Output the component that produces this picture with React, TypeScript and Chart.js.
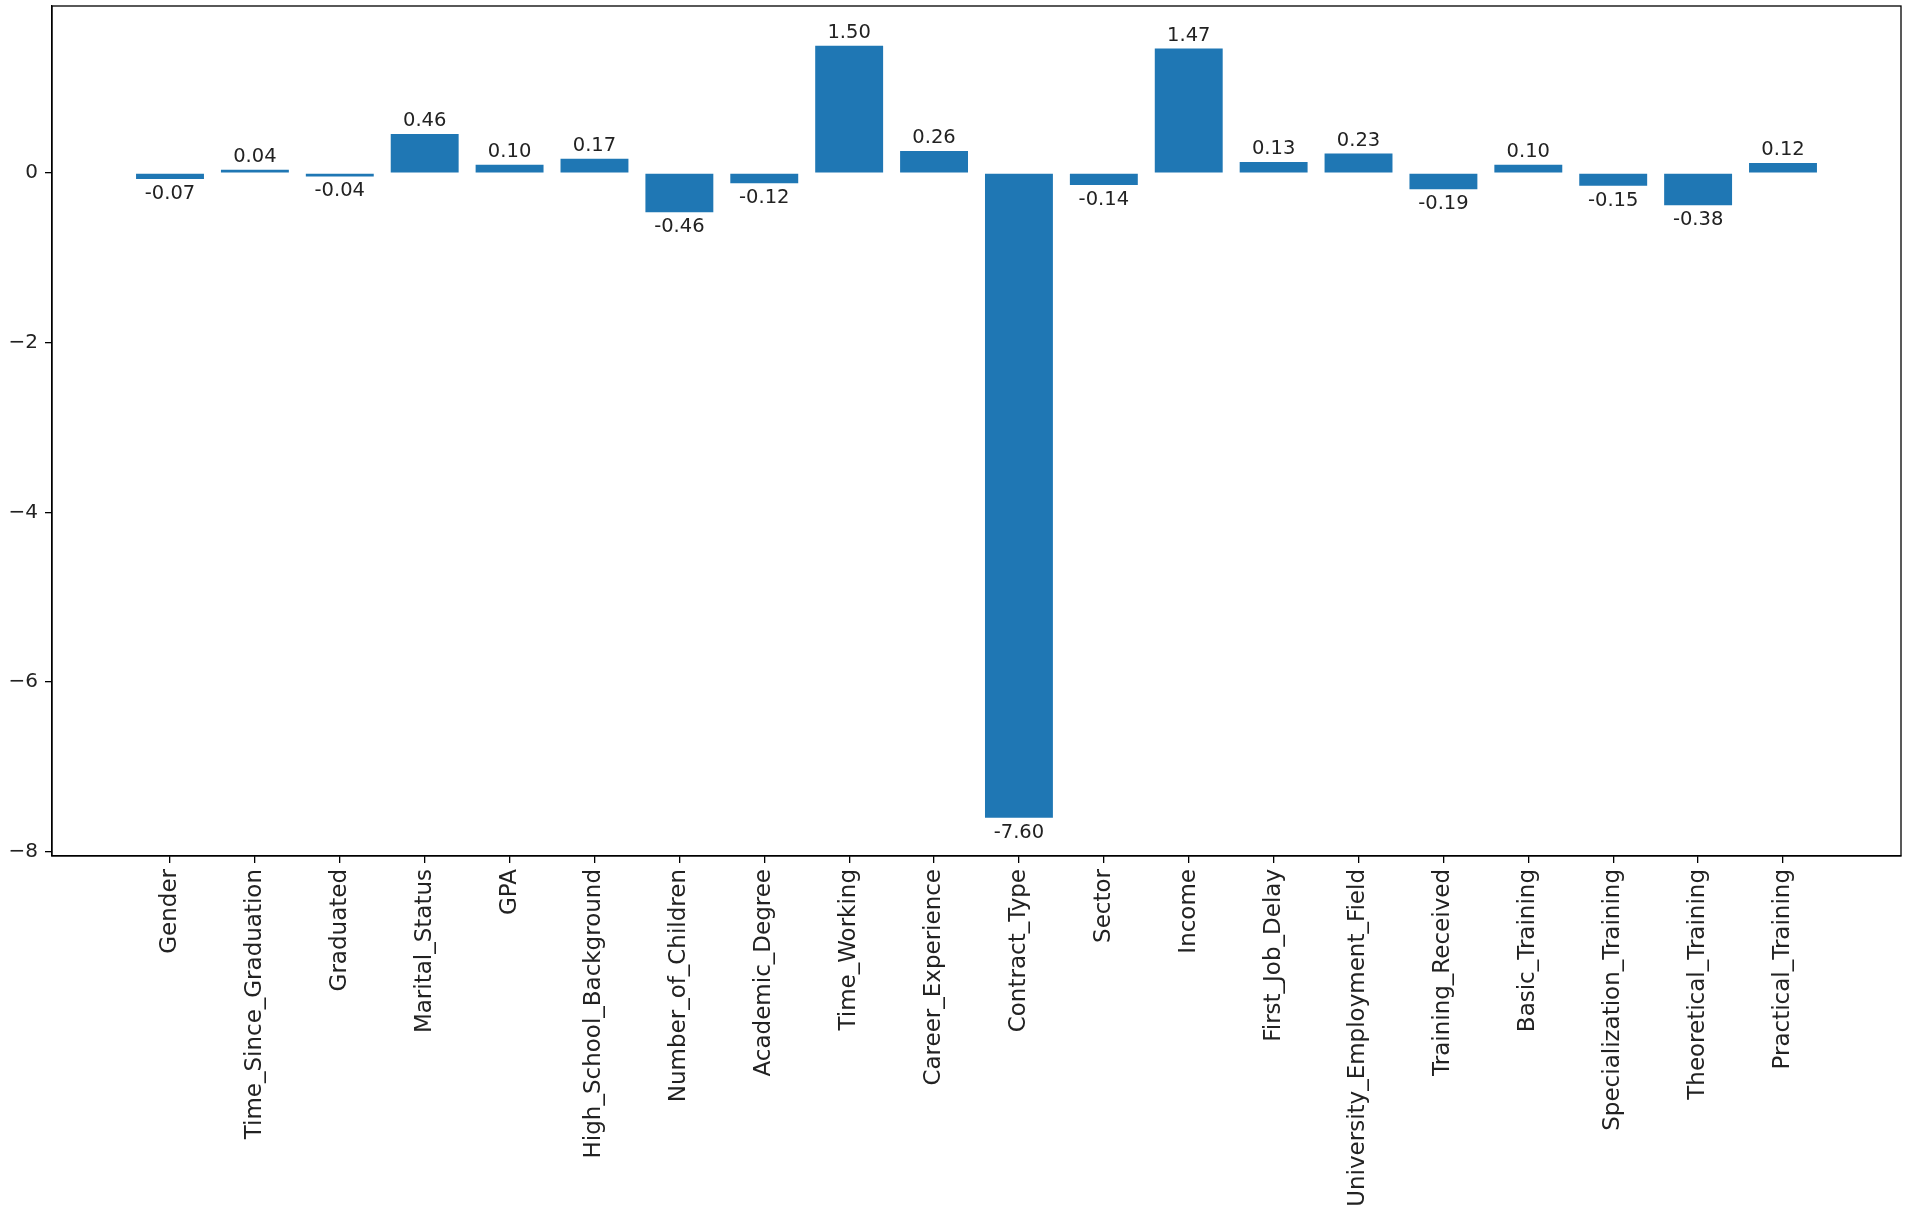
import React, { useEffect, useRef } from "react";
import { Chart, registerables } from "chart.js";

Chart.register(...registerables);

const categories: string[] = [
  "Gender",
  "Time_Since_Graduation",
  "Graduated",
  "Marital_Status",
  "GPA",
  "High_School_Background",
  "Number_of_Children",
  "Academic_Degree",
  "Time_Working",
  "Career_Experience",
  "Contract_Type",
  "Sector",
  "Income",
  "First_Job_Delay",
  "University_Employment_Field",
  "Training_Received",
  "Basic_Training",
  "Specialization_Training",
  "Theoretical_Training",
  "Practical_Training",
];

const values: number[] = [
  -0.07, 0.04, -0.04, 0.46, 0.1, 0.17, -0.46, -0.12, 1.5, 0.26, -7.6, -0.14,
  1.47, 0.13, 0.23, -0.19, 0.1, -0.15, -0.38, 0.12,
];

const yTicks: number[] = [-8, -6, -4, -2, 0];

const W = 1908;
const H = 1213;
const FONT = "'DejaVu Sans', 'Liberation Sans', sans-serif";

const framePlugin = {
  id: "frame",
  afterDraw(chart: any) {
    const { ctx, chartArea } = chart;
    ctx.save();
    ctx.strokeStyle = "#000";
    ctx.lineWidth = 1.3;
    ctx.strokeRect(chartArea.left, chartArea.top, chartArea.right - chartArea.left, chartArea.bottom - chartArea.top);
    ctx.restore();
  },
};

const labelPlugin = {
  id: "barLabels",
  afterDatasetsDraw(chart: any) {
    const { ctx } = chart;
    const meta = chart.getDatasetMeta(0);
    ctx.save();
    ctx.font = `19.5px ${FONT}`;
    ctx.fillStyle = "#222";
    ctx.textAlign = "center";
    meta.data.forEach((el: any, i: number) => {
      const v = values[i];
      const txt = v.toFixed(2);
      if (v >= 0) {
        ctx.textBaseline = "bottom";
        ctx.fillText(txt, el.x, el.y - 3);
      } else {
        ctx.textBaseline = "top";
        ctx.fillText(txt, el.x, el.y + 5);
      }
    });
    ctx.restore();
  },
};

export default function App() {
  const ref = useRef<HTMLCanvasElement | null>(null);
  useEffect(() => {
    if (!ref.current) return;
    Chart.defaults.font.family = FONT;
    const chart = new Chart(ref.current, {
      type: "bar",
      data: {
        datasets: [
          {
            data: values.map((v, i) => ({ x: i, y: v })),
            backgroundColor: "#1f77b4",
            borderWidth: 0,
            barPercentage: 0.8,
            categoryPercentage: 1.0,
          },
        ],
      },
      options: {
        animation: false,
        responsive: false,
        devicePixelRatio: 1,
        layout: { padding: { top: 6, right: 7, left: 0, bottom: 0 } },
        plugins: { legend: { display: false }, tooltip: { enabled: false } },
        scales: {
          x: {
            type: "linear",
            offset: false,
            min: -1.39,
            max: 20.39,
            afterBuildTicks: (s: any) => {
              s.ticks = categories.map((_, i) => ({ value: i }));
            },
            afterFit: (s: any) => {
              s.height = 357;
              s.paddingLeft = 0;
              s.paddingRight = 0;
            },
            ticks: {
              autoSkip: false,
              maxRotation: 90,
              minRotation: 90,
              padding: 6,
              color: "#222",
              font: { size: 23, family: FONT },
              callback: (v: any) => categories[Math.round(Number(v))] ?? "",
            },
            grid: {
              display: true,
              offset: false,
              drawOnChartArea: false,
              drawTicks: true,
              tickLength: 7,
              color: "#000",
              lineWidth: 1.3,
            },
            border: { display: true, color: "#000", width: 1.3 },
          },
          y: {
            type: "linear",
            min: -8.05,
            max: 1.97,
            afterBuildTicks: (s: any) => {
              s.ticks = yTicks.map((v) => ({ value: v }));
            },
            afterFit: (s: any) => {
              s.width = 52;
              s.paddingTop = 0;
              s.paddingBottom = 0;
            },
            ticks: {
              padding: 7,
              color: "#222",
              font: { size: 20, family: FONT },
              callback: (v: any) => (Number(v) < 0 ? "\u2212" + Math.abs(Number(v)) : String(v)),
            },
            grid: {
              display: true,
              drawOnChartArea: false,
              drawTicks: true,
              tickLength: 7,
              color: "#000",
              lineWidth: 1.3,
            },
            border: { display: true, color: "#000", width: 1.3 },
          },
        },
      },
      plugins: [framePlugin, labelPlugin],
    });
    return () => chart.destroy();
  }, []);
  return (
    <div style={{ position: "fixed", left: 0, top: 0, width: W, height: H, background: "#fff" }}>
      <canvas ref={ref} width={W} height={H} style={{ width: W, height: H, display: "block" }} />
    </div>
  );
}
